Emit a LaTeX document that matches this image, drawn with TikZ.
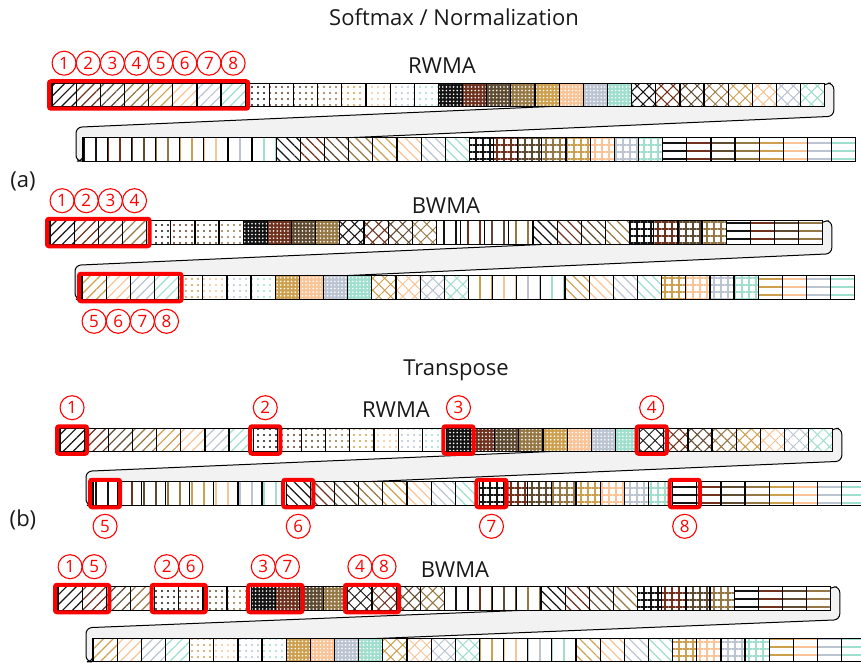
\documentclass[tikz,border=0pt]{standalone}
\usepackage{fontspec}
\setmainfont{Open Sans}
\usepackage{tikz}
\usetikzlibrary{positioning,fit,patterns.meta,backgrounds}
\usepackage{xcolor}

\definecolor{col1}{RGB}{20,20,20}
\definecolor{col2}{RGB}{110,50,30}
\definecolor{col3}{RGB}{95,75,50}
\definecolor{col4}{RGB}{150,120,70}
\definecolor{col5}{RGB}{205,160,80}
\definecolor{col6}{RGB}{248,196,152}
\definecolor{col7}{RGB}{188,196,210}
\definecolor{col8}{RGB}{160,222,206}

\tikzset{
	cell/.style={draw=black, line width=1.2pt, preaction={fill=white}, minimum width=24.15pt, minimum height=23.5pt, inner sep=0pt, outer sep=0pt},
	pat1/.style={pattern={Lines[angle=45,distance=7pt,line width=1.2pt]}, pattern color=#1},
	pat2/.style={pattern={Dots[distance=6pt,radius=1.1pt]}, pattern color=#1},
	pat3/.style={preaction={fill=#1}, pattern={Dots[distance=3.6pt,radius=0.9pt]}, pattern color=white},
	pat4/.style={pattern={Hatch[angle=45,distance=8.5pt,line width=1pt]}, pattern color=#1},
	pat5/.style={pattern={Lines[angle=90,distance=12pt,line width=1.2pt]}, pattern color=#1},
	pat6/.style={pattern={Lines[angle=-45,distance=7pt,line width=1.2pt]}, pattern color=#1},
	pat7/.style={pattern={Hatch[angle=0,distance=7pt,line width=1.2pt]}, pattern color=#1},
	pat8/.style={pattern={Lines[angle=0,distance=8pt,line width=1.2pt]}, pattern color=#1},
	redbox/.style={draw=red, line width=4pt, inner xsep=3pt, inner ysep=2pt, rounded corners=2pt},
	num/.style={circle, draw=red, text=red, line width=1.1pt, minimum size=24pt, inner sep=0pt, font=\fontsize{17}{17}\selectfont},
	band/.style={draw=black, line width=1pt, fill=gray!10, rounded corners=6pt},
	ttl/.style={font=\fontsize{22}{26}\selectfont, text=black!90}
}

% row-wise layout: 8 colours of one pattern after another
\newcommand{\rwrow}[4]{%
	\foreach \k in {0,...,31}{
		\pgfmathtruncatemacro{\knd}{#4+int(\k/8)}
		\pgfmathtruncatemacro{\hue}{mod(\k,8)+1}
		\edef\tmp{\noexpand\node[cell,pat\knd=col\hue] (#1\k) at (#2+12.075+24.15*\k,#3) {};}
		\tmp
	}}
% block-wise layout: 4 colours of one pattern after another
\newcommand{\bwrow}[4]{%
	\foreach \k in {0,...,31}{
		\pgfmathtruncatemacro{\knd}{1+int(\k/4)}
		\pgfmathtruncatemacro{\hue}{mod(\k,4)+1+#4}
		\edef\tmp{\noexpand\node[cell,pat\knd=col\hue] (#1\k) at (#2+12.075+24.15*\k,#3) {};}
		\tmp
	}}
% grey fold from the end of the upper row to the start of the lower row
\newcommand{\ribbon}[2]{%
	\begin{pgfonlayer}{background}
		\draw[band] (#131.north east) -- ++(9,0) -- ++(0,33) -- (#20.west) -- (#20.south west) -- ++(-7,0) -- ++(0,-34) -- (#131.center) -- cycle;
	\end{pgfonlayer}}

\begin{document}
\begin{tikzpicture}[x=1pt,y=-1pt]
	\useasboundingbox (0,0) rectangle (861,663);
	\clip (0,0) rectangle (861,663);

	% (a)
	\node[ttl] (sm) at (454,17) {Softmax / Normalization};
	\node[ttl] (lbl-a) at (23,181) {(a)};
	\node[ttl] (ra-name) at (442,66) {RWMA};
	\rwrow{ra-t}{52}{95}{1}
	\rwrow{ra-b}{83}{149.5}{5}
	\ribbon{ra-t}{ra-b}
	\foreach \k [count=\n] in {0,...,7}
		\node[num, above=7.5pt of ra-t\k] (ra-n\n) {\n};
	\node[redbox, fit=(ra-t0)(ra-t7)] (ra-box) {};

	\node[ttl] (ba-name) at (446,206) {BWMA};
	\bwrow{ba-t}{50}{232.5}{0}
	\bwrow{ba-b}{82}{287.5}{4}
	\ribbon{ba-t}{ba-b}
	\foreach \k [count=\n] in {0,...,3}
		\node[num, above=7.5pt of ba-t\k] (ba-n\n) {\n};
	\foreach \k [count=\n from 5] in {0,...,3}
		\node[num, below=9.5pt of ba-b\k] (ba-n\n) {\n};
	\node[redbox, fit=(ba-t0)(ba-t3)] (ba-box1) {};
	\node[redbox, fit=(ba-b0)(ba-b3)] (ba-box2) {};

	% (b)
	\node[ttl] (tp) at (456,370) {Transpose};
	\node[ttl] (lbl-b) at (23,520) {(b)};
	\node[ttl] (rb-name) at (396,410) {RWMA};
	\rwrow{rb-t}{60}{440}{1}
	\rwrow{rb-b}{93}{493.5}{5}
	\ribbon{rb-t}{rb-b}
	\foreach \k [count=\n] in {0,8,16,24}{
		\node[num, above=8pt of rb-t\k] (rb-n\n) {\n};
		\node[redbox, fit=(rb-t\k)] (rb-box\n) {};
	}
	\foreach \k [count=\n from 5] in {0,8,16,24}{
		\node[num, below=8.5pt of rb-b\k] (rb-n\n) {\n};
		\node[redbox, fit=(rb-b\k)] (rb-box\n) {};
	}

	\node[ttl] (bb-name) at (455,570) {BWMA};
	\bwrow{bb-t}{58}{598.5}{0}
	\bwrow{bb-b}{93}{650}{4}
	\ribbon{bb-t}{bb-b}
	\foreach \k/\a/\b in {0/1/5, 4/2/6, 8/3/7, 12/4/8}{
		\pgfmathtruncatemacro{\kk}{\k+1}
		\node[num, above=7.5pt of bb-t\k] (bb-n\a) {\a};
		\node[num, above=7.5pt of bb-t\kk] (bb-n\b) {\b};
		\node[redbox, fit=(bb-t\k)(bb-t\kk)] (bb-box\a) {};
	}
\end{tikzpicture}
\end{document}
